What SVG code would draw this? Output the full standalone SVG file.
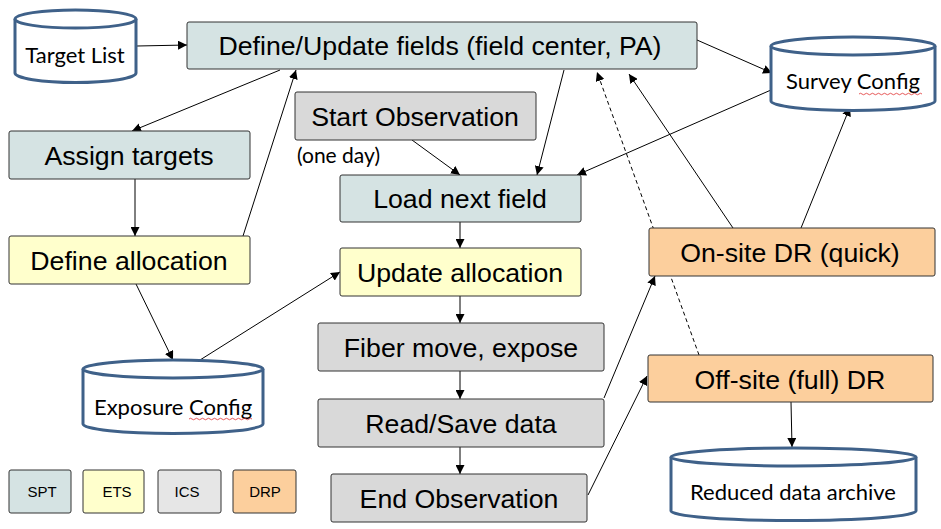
<svg xmlns="http://www.w3.org/2000/svg" width="941" height="529" viewBox="0 0 941 529">
<defs>
<marker id="ah" viewBox="0 0 10 10" refX="10" refY="5" markerWidth="9" markerHeight="9" markerUnits="userSpaceOnUse" orient="auto">
<path d="M0,0 L10,5 L0,10 Z" fill="#000"/>
</marker>
<style>
.box{stroke:#333;stroke-width:1;}
.spt{fill:#d5e3e3;}
.ets{fill:#ffffcc;}
.ics{fill:#d9d9d9;}
.icsl{fill:#e6e6e6;}
.drp{fill:#fccf9d;}
.t{font-family:"Liberation Sans",Arial,sans-serif;font-size:26.7px;fill:#000;text-anchor:middle;}
.tl{font-family:"Liberation Sans",Arial,sans-serif;font-size:15px;fill:#000;text-anchor:middle;}
.ts{font-family:Lato,"Open Sans",sans-serif;font-size:21px;fill:#000;}
.cyl{fill:#fff;stroke:#3f6189;stroke-width:3;}
.ct{font-family:Lato,"Open Sans",sans-serif;font-size:22px;fill:#000;text-anchor:middle;}
.c{stroke:#000;stroke-width:1;fill:none;marker-end:url(#ah);}
.d{stroke:#000;stroke-width:1;fill:none;stroke-dasharray:4,3;marker-end:url(#ah);}
.sq{stroke:#e03030;stroke-width:0.8;fill:none;}
</style>
</defs>
<rect width="941" height="529" fill="#fff"/>

<g id="connectors">
<line class="c" x1="137" y1="46" x2="187" y2="45"/>
<line class="c" x1="280" y1="70" x2="132" y2="131"/>
<line class="c" x1="243" y1="236" x2="296" y2="70"/>
<line class="c" x1="135" y1="179" x2="135" y2="236"/>
<line class="c" x1="136" y1="284" x2="173" y2="360"/>
<line class="c" x1="200" y1="360" x2="340" y2="272"/>
<line class="c" x1="412" y1="140" x2="460" y2="175"/>
<line class="c" x1="564" y1="70" x2="537" y2="175"/>
<line class="c" x1="771" y1="90" x2="577" y2="175"/>
<line class="c" x1="697" y1="40" x2="772" y2="73"/>
<line class="c" x1="733" y1="228" x2="629" y2="74"/>
<line class="c" x1="801" y1="228" x2="850" y2="107"/>
<line class="d" x1="699" y1="355" x2="597" y2="72"/>
<line class="c" x1="460" y1="222" x2="460" y2="248"/>
<line class="c" x1="460" y1="296" x2="460" y2="323"/>
<line class="c" x1="460" y1="371" x2="460" y2="399"/>
<line class="c" x1="460" y1="447" x2="460" y2="474"/>
<line class="c" x1="604" y1="398" x2="655" y2="276"/>
<line class="c" x1="588" y1="495" x2="647" y2="376"/>
<line class="c" x1="791" y1="402" x2="792" y2="447"/>
</g>

<g id="target-list">
<path class="cyl" d="M15,19 L15,73 A60.5,9.5 0 0 0 136,73 L136,19"/>
<ellipse class="cyl" cx="75.5" cy="19" rx="60.5" ry="9"/>
<text class="ct" x="75" y="63">Target List</text>
</g>

<g id="define-update">
<rect class="box spt" x="187" y="22" width="510" height="47" rx="2"/>
<text class="t" x="440" y="55">Define/Update fields (field center, PA)</text>
</g>

<g id="survey-config">
<path class="cyl" d="M771,46 L771,101 A82,9.5 0 0 0 935,101 L935,46"/>
<ellipse class="cyl" cx="853" cy="46" rx="82" ry="9"/>
<text class="ct" x="853" y="89">Survey Config</text>
<path class="sq" d="M859,94 q1.5,-1.5 3,0 t3,0 t3,0 t3,0 t3,0 t3,0 t3,0 t3,0 t3,0 t3,0 t3,0 t3,0 t3,0 t3,0 t3,0 t3,0 t3,0 t3,0 t3,0 t3,0 t3,0"/>
</g>

<g id="start-observation">
<rect class="box ics" x="295" y="92" width="241" height="48" rx="2"/>
<text class="t" x="415" y="126">Start Observation</text>
<text class="ts" x="297" y="163">(one day)</text>
</g>

<g id="assign-targets">
<rect class="box spt" x="9" y="131" width="241" height="48" rx="2"/>
<text class="t" x="129" y="165">Assign targets</text>
</g>

<g id="load-next-field">
<rect class="box spt" x="340" y="175" width="241" height="47" rx="2"/>
<text class="t" x="460" y="208">Load next field</text>
</g>

<g id="define-allocation">
<rect class="box ets" x="9" y="236" width="241" height="48" rx="2"/>
<text class="t" x="129" y="270">Define allocation</text>
</g>

<g id="update-allocation">
<rect class="box ets" x="340" y="248" width="241" height="48" rx="2"/>
<text class="t" x="460" y="282">Update allocation</text>
</g>

<g id="onsite-dr">
<rect class="box drp" x="649" y="228" width="286" height="48" rx="2"/>
<text class="t" x="790" y="262">On-site DR (quick)</text>
</g>

<g id="fiber-move">
<rect class="box ics" x="318" y="323" width="286" height="48" rx="2"/>
<text class="t" x="461" y="357">Fiber move, expose</text>
</g>

<g id="offsite-dr">
<rect class="box drp" x="648" y="355" width="285" height="47" rx="2"/>
<text class="t" x="790" y="389">Off-site (full) DR</text>
</g>

<g id="exposure-config">
<path class="cyl" d="M83,369 L83,424 A90,9.5 0 0 0 263,424 L263,369"/>
<ellipse class="cyl" cx="173" cy="369" rx="90" ry="9"/>
<text class="ct" x="173" y="415">Exposure Config</text>
<path class="sq" d="M189,419 q1.5,-1.5 3,0 t3,0 t3,0 t3,0 t3,0 t3,0 t3,0 t3,0 t3,0 t3,0 t3,0 t3,0 t3,0 t3,0 t3,0 t3,0 t3,0 t3,0 t3,0 t3,0 t3,0"/>
</g>

<g id="read-save">
<rect class="box ics" x="318" y="399" width="286" height="48" rx="2"/>
<text class="t" x="461" y="433">Read/Save data</text>
</g>

<g id="end-observation">
<rect class="box ics" x="331" y="474" width="256" height="48" rx="2"/>
<text class="t" x="459" y="508">End Observation</text>
</g>

<g id="reduced-archive">
<path class="cyl" d="M671,457 L671,511 A122.5,9.5 0 0 0 916,511 L916,457"/>
<ellipse class="cyl" cx="793.5" cy="457" rx="122.5" ry="9"/>
<text class="ct" x="793" y="500">Reduced data archive</text>
</g>

<g id="legend">
<rect class="box spt" x="9" y="470" width="62" height="43" rx="2"/>
<text class="tl" x="42" y="497">SPT</text>
<rect class="box ets" x="83" y="470" width="61" height="43" rx="2"/>
<text class="tl" x="117" y="497">ETS</text>
<rect class="box icsl" x="158" y="470" width="63" height="43" rx="2"/>
<text class="tl" x="187" y="497">ICS</text>
<rect class="box drp" x="233" y="470" width="63" height="43" rx="2"/>
<text class="tl" x="265" y="497">DRP</text>
</g>
</svg>
